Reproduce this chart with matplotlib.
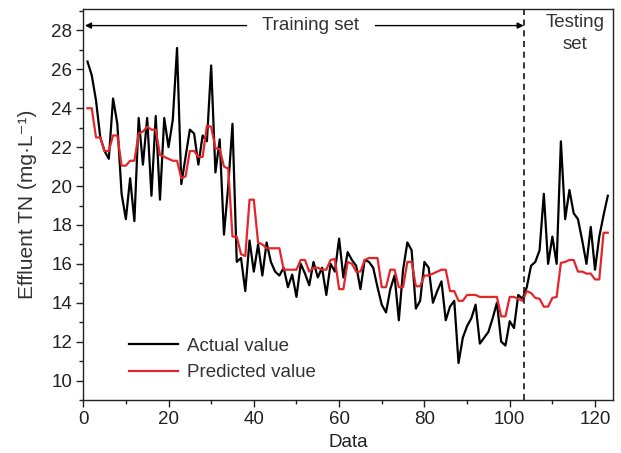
import matplotlib

matplotlib.use("Agg")
import matplotlib.pyplot as plt
from matplotlib.ticker import MultipleLocator

plt.rcParams["font.family"] = ["Liberation Sans", "DejaVu Sans"]

# sample index (1..123); first 103 are training, rest testing
data_idx = list(range(1, 124))
split_at = 103.3

actual = [
    26.4, 25.7, 24.4, 22.5, 21.8, 21.4, 24.5, 23.2, 19.6, 18.3,
    20.4, 18.2, 23.5, 21.1, 23.5, 19.5, 23.6, 19.3, 23.5, 22.0,
    23.4, 27.1, 20.1, 21.5, 22.9, 22.7, 21.1, 22.6, 22.3, 26.2,
    20.7, 22.4, 17.5, 20.0, 23.2, 16.1, 16.3, 14.6, 17.2, 15.6,
    17.0, 15.4, 17.1, 16.1, 15.6, 15.4, 15.8, 14.8, 15.45, 14.3,
    16.0, 15.5, 14.9, 16.1, 15.3, 15.8, 14.4, 16.0, 15.6, 17.3,
    15.3, 16.6, 16.2, 15.9, 14.7, 16.2, 16.1, 15.8, 14.8, 13.9,
    13.5, 14.7, 15.4, 13.1, 15.7, 17.1, 16.7, 13.7, 14.1, 16.1,
    15.8, 14.0, 14.6, 15.1, 13.1, 13.8, 14.1, 10.9, 12.2, 12.8,
    13.2, 13.9, 11.9, 12.2, 12.5, 13.2, 14.0, 12.0, 11.8, 13.05,
    12.7, 14.4, 14.2, 14.8, 15.9, 16.1, 16.7, 19.6, 16.0, 17.4,
    16.0, 22.3, 18.3, 19.8, 18.6, 18.3, 17.2, 16.0, 17.9, 15.7,
    17.4, 18.5, 19.5,
]

predicted = [
    24.0, 24.0, 22.5, 22.5, 21.8, 21.8, 22.6, 22.6, 21.05, 21.05,
    21.3, 21.3, 22.7, 22.8, 23.05, 22.9, 22.9, 21.6, 21.5, 21.4,
    21.3, 21.3, 20.4, 20.5, 21.8, 21.8, 21.5, 21.5, 23.1, 23.05,
    21.95, 21.9, 21.0, 20.9, 17.4, 17.4, 16.5, 16.4, 19.3, 19.3,
    17.1, 17.0, 16.8, 16.8, 16.8, 16.8, 15.7, 15.7, 15.7, 15.7,
    16.2, 16.2, 15.6, 15.8, 15.8, 15.7, 15.7, 16.2, 16.25, 14.7,
    14.7, 16.1, 16.0, 15.6, 15.6, 16.2, 16.3, 16.3, 16.3, 14.8,
    14.8, 15.7, 15.7, 14.8, 14.8, 16.1, 16.1, 14.85, 14.85, 15.4,
    15.4, 15.5, 15.6, 15.7, 15.7, 14.6, 14.6, 14.1, 14.1, 14.4,
    14.4, 14.4, 14.3, 14.3, 14.3, 14.3, 14.3, 13.3, 13.3, 14.3,
    14.3, 14.2, 14.1, 14.6, 14.5, 14.25, 14.2, 13.8, 13.8, 14.25,
    14.3, 16.05, 16.1, 16.2, 16.2, 15.6, 15.6, 15.5, 15.5, 15.2,
    15.2, 17.6, 17.6,
]

INK = "#222222"
TXT = "#333333"
FS = 13.5

fig = plt.figure(figsize=(6.21, 4.53), dpi=100)
ax = fig.add_axes([0.134, 0.117, 0.853, 0.863])

ax.plot(data_idx, actual, color="black", lw=1.6, label="Actual value")
ax.plot(data_idx, predicted, color="#e3262b", lw=1.6, label="Predicted value")
ax.axvline(split_at, color="black", lw=1.1, ls=(0, (4, 3)))

ax.set_xlim(0, 124.2)
ax.set_ylim(9, 29.1)
ax.xaxis.set_major_locator(MultipleLocator(20))
ax.xaxis.set_minor_locator(MultipleLocator(10))
ax.yaxis.set_major_locator(MultipleLocator(2))
ax.yaxis.set_minor_locator(MultipleLocator(1))
ax.tick_params(which="both", direction="out", top=False, right=False,
               labelsize=FS, colors=INK, width=1.0)
ax.tick_params(which="major", length=5, pad=3)
ax.tick_params(which="minor", length=3)
for s in ax.spines.values():
    s.set_linewidth(1.0)
    s.set_color(INK)

ax.set_xlabel("Data", fontsize=FS, color=INK, labelpad=4)
ax.set_ylabel("Effluent TN (mg·L⁻¹)", fontsize=15, color=TXT, labelpad=10)

# training / testing markers at the top
arrow_y = 28.25
ax.annotate("", xy=(0.4, arrow_y), xytext=(38.3, arrow_y),
            arrowprops=dict(arrowstyle="-|>", color="black", lw=1.0,
                            mutation_scale=9, shrinkA=0, shrinkB=0))
ax.annotate("", xy=(split_at, arrow_y), xytext=(68.5, arrow_y),
            arrowprops=dict(arrowstyle="-|>", color="black", lw=1.0,
                            mutation_scale=9, shrinkA=0, shrinkB=0))
ax.text(53.4, arrow_y, "Training set", ha="center", va="center",
        fontsize=FS, color=TXT)
ax.text(115.3, 27.85, "Testing\nset", ha="center", va="center",
        fontsize=FS, color=TXT, linespacing=1.35)

leg = ax.legend(loc="lower left", bbox_to_anchor=(0.055, 0.005), frameon=False,
                fontsize=FS, handlelength=2.6, handletextpad=0.5,
                labelspacing=0.48)
for t in leg.get_texts():
    t.set_color(TXT)

fig.savefig("out.png", dpi=100)
